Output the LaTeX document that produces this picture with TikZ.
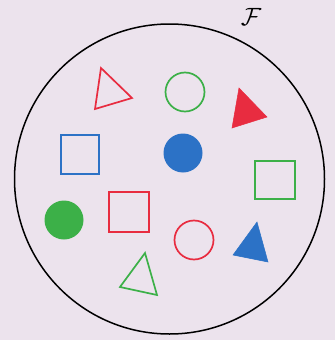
\documentclass[tikz,border=0pt]{standalone}
\begin{document}
\begin{tikzpicture}[x=1pt,y=-1pt]
\definecolor{bg}{RGB}{236,227,237}
\definecolor{myred}{RGB}{232,44,64}
\definecolor{mygreen}{RGB}{60,176,72}
\definecolor{myblue}{RGB}{44,114,198}
\tikzset{
  outl/.style={line width=1.7pt, line join=miter},
  filled/.style={fill=#1, draw=#1, line width=0.5pt}
}
\fill[bg] (0,0) rectangle (335,340);
\useasboundingbox (0,0) rectangle (335,340);
% big set
\draw[line width=1.5pt] (169.5,179) circle[radius=155];
\node[scale=2.5, inner sep=0pt] (F) at (251,17) {$\mathcal{F}$};
% shapes
\draw[outl, myred] (101,68) -- (132,98) -- (95,109) -- cycle;
\draw[outl, mygreen] (185,92) circle[radius=19.5];
\draw[filled=myred] (239,88) -- (267,117) -- (232,128) -- cycle;
\draw[outl, myblue] (61,135) rectangle (99,174);
\fill[myblue] (183,153) circle[radius=19.5];
\draw[outl, mygreen] (255,161) rectangle (295,199);
\fill[mygreen] (64,220) circle[radius=19.5];
\draw[outl, myred] (109,192) rectangle (149,232);
\draw[outl, myred] (194,240) circle[radius=19.5];
\draw[filled=myblue] (257,222) -- (268,262) -- (233,255) -- cycle;
\draw[outl, mygreen] (145,253) -- (157,295) -- (120,287) -- cycle;
\end{tikzpicture}
\end{document}
